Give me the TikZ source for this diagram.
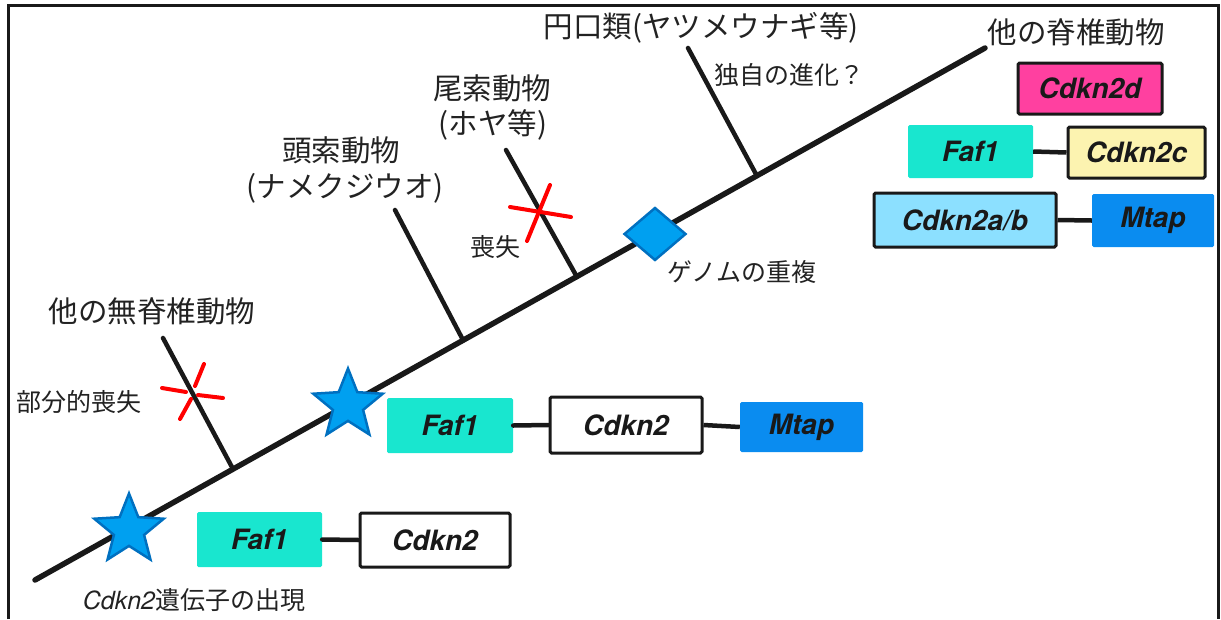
\documentclass[tikz,border=0pt]{standalone}
\usepackage{fontspec}
\setsansfont{TeX Gyre Heros}
\newfontfamily\jp{Noto Sans CJK JP}
\usetikzlibrary{shapes.geometric}
\definecolor{teal1}{HTML}{19E6CF}
\definecolor{mtapblue}{HTML}{0A8CF0}
\definecolor{pink1}{HTML}{FF40A0}
\definecolor{yellow1}{HTML}{FCF3B0}
\definecolor{lblue}{HTML}{8CE0FF}
\definecolor{starblue}{HTML}{00A0F0}
\definecolor{starline}{HTML}{0070C0}
\definecolor{txt}{HTML}{222222}
\tikzset{
  gene/.style={minimum height=#1, inner sep=0pt, font=\sffamily\bfseries\itshape\fontsize{28}{32}\selectfont, text=black!90, rounded corners=1.5pt},
  gene/.default=53pt,
  bordered/.style={draw=black!90, line width=3pt},
  link/.style={line width=4.5pt, draw=black!90},
  mainline/.style={line width=5.5pt, draw=black!90, line cap=round},
  branch/.style={line width=4.5pt, draw=black!90, line cap=round},
  redx/.style={line width=4pt, draw=red, line cap=round},
  biglab/.style={font=\jp\fontsize{29.5}{36}\selectfont, text=txt, align=center, inner sep=0pt},
  smalllab/.style={font=\jp\fontsize{25}{30}\selectfont, text=txt, inner sep=0pt},
  starnode/.style={star, star points=5, star point ratio=2.3, minimum size=73pt, inner sep=0pt, fill=starblue, draw=starline, line width=2.5pt},
}
\begin{document}
\begin{tikzpicture}[x=1pt,y=-1pt]
\useasboundingbox (0,0) rectangle (1221,619);
% frame
\draw[line width=3pt, draw=black!90] (8,619) -- (8,5) -- (1218,5) -- (1218,619);

% main line
\coordinate (m0) at (35,580);
\coordinate (m1) at (985,48);
\draw[mainline] (m0) -- (m1);

% branches
\coordinate (b1a) at (233,469);
\coordinate (b1b) at (163,338);
\coordinate (b2a) at (463,340);
\coordinate (b2b) at (395,210);
\coordinate (b3a) at (577,277);
\coordinate (b3b) at (506,150);
\coordinate (b4a) at (757,176);
\coordinate (b4b) at (688,48);
\draw[branch] (b1a) -- (b1b);
\draw[branch] (b2a) -- (b2b);
\draw[branch] (b3a) -- (b3b);
\draw[branch] (b4a) -- (b4b);

% partial loss cross (broken)
\coordinate (r1) at (162,388); \coordinate (r2) at (186,392);
\coordinate (r3) at (198,395); \coordinate (r4) at (223,398);
\coordinate (r5) at (204,364); \coordinate (r6) at (195,386);
\coordinate (r7) at (191,399); \coordinate (r8) at (180,419);
\draw[redx] (r1) -- (r2);
\draw[redx] (r3) -- (r4);
\draw[redx] (r5) -- (r6);
\draw[redx] (r7) -- (r8);

% loss cross
\coordinate (x1) at (510,207); \coordinate (x2) at (571,217);
\coordinate (x3) at (550,185); \coordinate (x4) at (527,241);
\draw[redx] (x1) -- (x2);
\draw[redx] (x3) -- (x4);

% stars
\node[starnode] (star1) at (129,530) {};
\node[starnode] (star2) at (348,405) {};

% diamond
\node[diamond, fill=starblue, draw=starline, line width=2.5pt, minimum width=62pt, minimum height=53pt, inner sep=0pt] (dia) at (655,234) {};

% labels
\node[biglab] (l1) at (701,28) {円口類(ヤツメウナギ等)};
\node[biglab] (l2) at (1076,32) {他の脊椎動物};
\node[smalllab] (l3) at (789,75) {独自の進化？};
\node[biglab] (l4a) at (492,88) {尾索動物};
\node[biglab] (l4b) at (493,125) {(ホヤ等)};
\node[biglab] (l5a) at (341,150) {頭索動物};
\node[biglab] (l5b) at (345,188) {(ナメクジウオ)};
\node[smalllab] (l6) at (495,247) {喪失};
\node[smalllab] (l7) at (742,272) {ゲノムの重複};
\node[biglab] (l8) at (152,311) {他の無脊椎動物};
\node[smalllab] (l9) at (79,402) {部分的喪失};
\node[smalllab] (l10) at (194,600) {{\sffamily\itshape\fontsize{25}{30}\selectfont Cdkn2}遺伝子の出現};

% genes: right group
\node[gene=51pt, bordered, fill=pink1, minimum width=144pt] (cdkn2d) at (1090,88.5) {Cdkn2d};
\node[gene=53pt, fill=teal1, minimum width=125pt] (faf1r) at (970.5,151.5) {Faf1};
\node[gene=51pt, bordered, fill=yellow1, minimum width=137pt] (cdkn2c) at (1136.5,152.5) {Cdkn2c};
\node[gene=54pt, bordered, fill=lblue, minimum width=182pt] (cdkn2ab) at (965,220) {Cdkn2a/b};
\node[gene=53pt, fill=mtapblue, minimum width=122pt] (mtapr) at (1153,220.5) {Mtap};
\draw[link] (faf1r.east) -- (cdkn2c.west);
\draw[link] (cdkn2ab.east) -- (mtapr.west);

% middle row
\node[gene=55pt, fill=teal1, minimum width=126pt] (faf1m) at (450,425.5) {Faf1};
\node[gene=56pt, bordered, fill=white, minimum width=152pt] (cdkn2m) at (626,425) {Cdkn2};
\node[gene=50pt, fill=mtapblue, minimum width=123pt] (mtapm) at (801.5,427) {Mtap};
\draw[link, line cap=round] (faf1m.east) -- (cdkn2m.west);
\draw[link] (cdkn2m.east) -- (mtapm.west);

% bottom row
\node[gene=55pt, fill=teal1, minimum width=125pt] (faf1b) at (259.5,539.5) {Faf1};
\node[gene=54pt, bordered, fill=white, minimum width=150pt] (cdkn2b) at (435,540) {Cdkn2};
\draw[link, line cap=round] (faf1b.east) -- (cdkn2b.west);
\end{tikzpicture}
\end{document}
